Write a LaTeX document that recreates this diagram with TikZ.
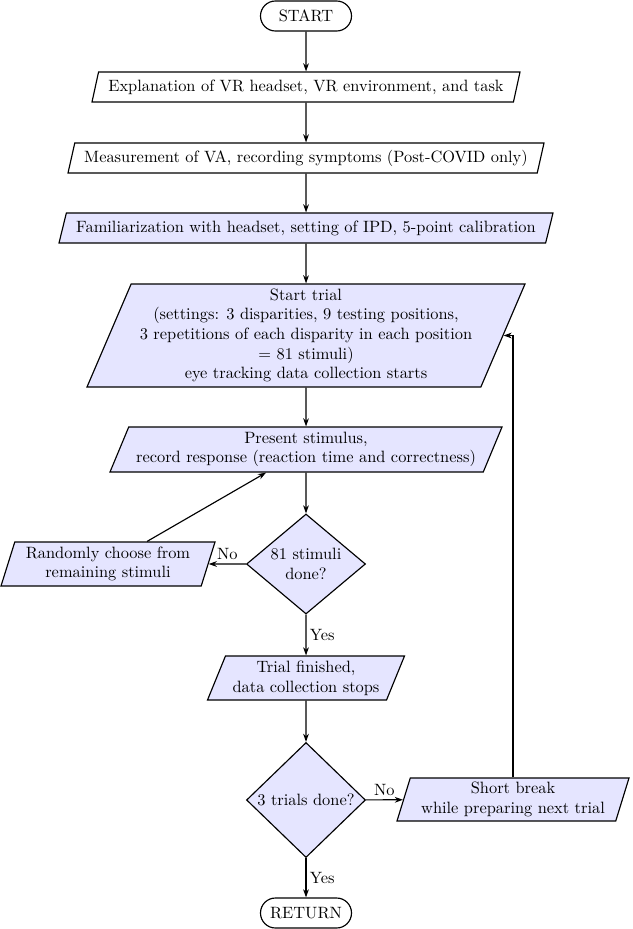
\documentclass[tikz,border=0pt]{standalone}
\usetikzlibrary{shapes.geometric,arrows.meta}
\newcommand{\pxu}{0.61pt}
\begin{document}
\begin{tikzpicture}[x=0.61pt,y=-0.61pt,
  line width=0.7pt,
  arr/.style={-{Stealth[length=5pt,width=3.5pt]}},
  term/.style={draw, rectangle, rounded corners=9.1pt, minimum width={91*\pxu}, minimum height={30*\pxu}, inner sep=0pt},
  io/.style={draw, trapezium, trapezium stretches body, align=center, inner xsep=2pt, inner ysep=1pt, fill=blue!10},
  dia/.style={draw, diamond, inner sep=0pt, fill=blue!10},
  lbl/.style={inner sep=2pt}
]
\useasboundingbox (0,0) rectangle (632,929);

\node[term] (start) at (306,16) {START};
\node[io, fill=white, trapezium left angle=70, trapezium right angle=110,
  minimum width={428*\pxu}, minimum height={30*\pxu}] (b1) at (306,87)
  {Explanation of VR headset, VR environment, and task};
\node[io, fill=white, trapezium left angle=71, trapezium right angle=109,
  minimum width={476*\pxu}, minimum height={30*\pxu}] (b2) at (306,158)
  {Measurement of VA, recording symptoms (Post-COVID only)};
\node[io, trapezium left angle=68, trapezium right angle=112,
  minimum width={494*\pxu}, minimum height={30*\pxu}] (b3) at (306,228)
  {Familiarization with headset, setting of IPD, 5-point calibration};
\node[io, trapezium left angle=65.5, trapezium right angle=114.5,
  minimum width={438*\pxu}, minimum height={103*\pxu}] (b4) at (306,335.5)
  {Start trial\\(settings: 3 disparities, 9 testing positions,\\3 repetitions of each disparity in each position\\= 81 stimuli)\\eye tracking data collection starts};
\node[io, trapezium left angle=64, trapezium right angle=116,
  minimum width={392*\pxu}, minimum height={45*\pxu}] (b5) at (306,449.5)
  {Present stimulus,\\record response (reaction time and correctness)};
\node[dia, minimum width={119*\pxu}, minimum height={100*\pxu},
  label={[align=center]center:81 stimuli\\done?}] (d1) at (306,564) {};
\node[io, trapezium left angle=70, trapezium right angle=110,
  minimum width={214*\pxu}, minimum height={44*\pxu}] (rnd) at (108,564)
  {Randomly choose from\\remaining stimuli};
\node[io, trapezium left angle=64.5, trapezium right angle=115.5,
  minimum width={197*\pxu}, minimum height={44*\pxu}] (tf) at (306,678)
  {Trial finished,\\data collection stops};
\node[dia, minimum width={119*\pxu}, minimum height={115*\pxu},
  label={center:3 trials done?}] (d2) at (306,800) {};
\node[io, trapezium left angle=70.7, trapezium right angle=109.3,
  minimum width={232*\pxu}, minimum height={43*\pxu}] (brk) at (513,799.5)
  {Short break\\while preparing next trial};
\node[term] (ret) at (306,913) {RETURN};

\draw[arr] (start) -- (b1);
\draw[arr] (b1) -- (b2);
\draw[arr] (b2) -- (b3);
\draw[arr] (b3) -- (b4);
\draw[arr] (b4) -- (b5);
\draw[arr] (b5) -- (d1);
\draw[arr] (d1) -- node[lbl, above] {No} (rnd);
\draw[arr] (rnd) -- (b5);
\draw[arr] (d1) -- node[lbl, right] {Yes} (tf);
\draw[arr] (tf) -- (d2);
\draw[arr] (d2) -- node[lbl, above] {No} (brk);
\draw[arr] (brk) |- (b4);
\draw[arr] (d2) -- node[lbl, right] {Yes} (ret);
\end{tikzpicture}
\end{document}
